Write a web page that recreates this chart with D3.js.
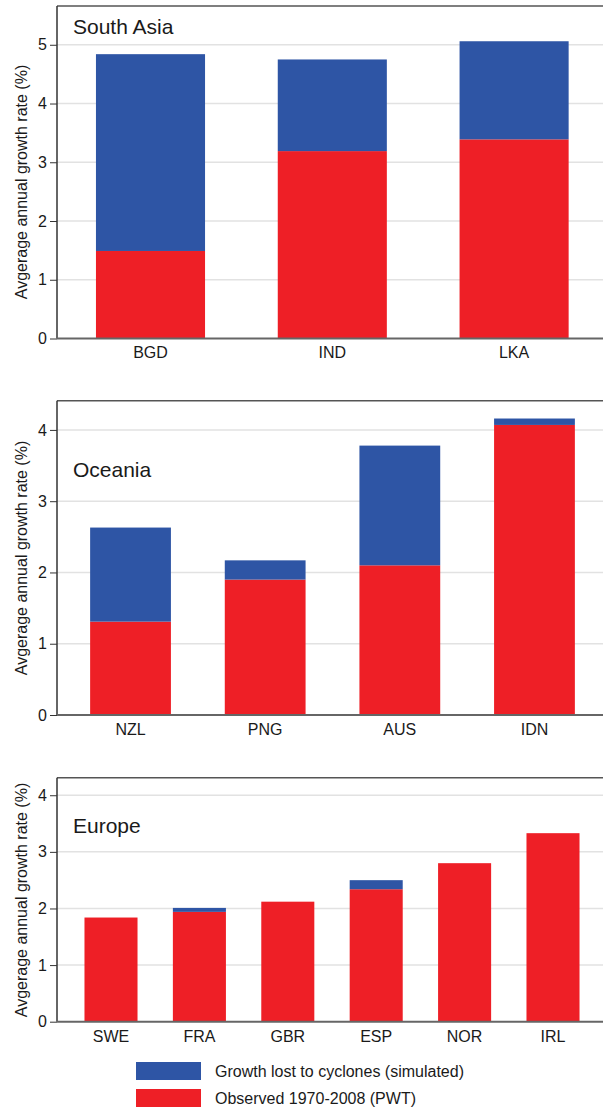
<!DOCTYPE html>
<html>
<head>
<meta charset="utf-8">
<script src="https://cdn.jsdelivr.net/npm/d3@7"></script>
<style>
  body { margin: 0; background: #fff; }
  text { font-family: "Liberation Sans", Arial, Helvetica, sans-serif; fill: #1a1a1a; }
</style>
</head>
<body>
<svg id="visualizacion"></svg>
<script>
// Datos (tasa de crecimiento anual promedio, %)
const paisesAsia = ["BGD", "IND", "LKA"];
const observadoAsia = [1.49, 3.19, 3.39];
const perdidoAsia = [3.35, 1.56, 1.67];

const paisesOceania = ["NZL", "PNG", "AUS", "IDN"];
const observadoOceania = [1.31, 1.90, 2.10, 4.07];
const perdidoOceania = [1.32, 0.27, 1.68, 0.09];

const paisesEuropa = ["SWE", "FRA", "GBR", "ESP", "NOR", "IRL"];
const observadoEuropa = [1.84, 1.94, 2.12, 2.34, 2.80, 3.33];
const perdidoEuropa = [0, 0.07, 0, 0.16, 0, 0];

const ticksAsia = [0, 1, 2, 3, 4, 5];
const ticksOceania = [0, 1, 2, 3, 4];
const ticksEuropa = [0, 1, 2, 3, 4];

const titulos = ["South Asia", "Oceania", "Europe"];
const etiquetaY = "Avgerage annual growth rate (%)";
const leyendaInfo = ["Growth lost to cyclones (simulated)", "Observed 1970-2008 (PWT)"];
const llavesLeyenda = ["perdido", "observado"];

const WIDTH = 603,
	HEIGHT = 1110;

const colores = {
	perdido: "#2e55a5",
	observado: "#ee1f26"
};

// Borde izquierdo del eje Y (común a los tres paneles)
const ejeX = 57;

// Disposición de cada panel
const paneles = [
	{ titulo: titulos[0], paises: paisesAsia, observado: observadoAsia, perdido: perdidoAsia, ticks: ticksAsia,
	  top: 6, bottom: 338.5, rangoX: [59.6, 605], yMax: 5.66, tituloY: 34, labelY: 182 },
	{ titulo: titulos[1], paises: paisesOceania, observado: observadoOceania, perdido: perdidoOceania, ticks: ticksOceania,
	  top: 400.7, bottom: 715, rangoX: [63.2, 601.8], yMax: 4.41, tituloY: 477, labelY: 558 },
	{ titulo: titulos[2], paises: paisesEuropa, observado: observadoEuropa, perdido: perdidoEuropa, ticks: ticksEuropa,
	  top: 777.7, bottom: 1021.7, rangoX: [66.8, 597.2], yMax: 4.31, tituloY: 833, labelY: 900 }
];

const svg = d3.select("#visualizacion")
	.attr("width", WIDTH)
	.attr("height", HEIGHT);

paneles.forEach(p => {
	const contenedor = svg.append("g");

	const escalaX = d3.scaleBand()
		.domain(p.paises)
		.range(p.rangoX)
		.paddingInner(0.4)
		.paddingOuter(0.2);

	const escalaY = d3.scaleLinear()
		.domain([0, p.yMax])
		.range([p.bottom, p.top]);

	// líneas de grilla
	contenedor.append("g")
		.selectAll("line")
		.data(p.ticks.filter(t => t > 0))
		.join("line")
		.attr("x1", ejeX)
		.attr("x2", WIDTH)
		.attr("y1", d => escalaY(d))
		.attr("y2", d => escalaY(d))
		.attr("stroke", "#e2e2e2")
		.attr("stroke-width", 1.5);

	// barras apiladas
	const filas = p.paises.map((pais, i) => ({
		pais: pais,
		observado: p.observado[i],
		perdido: p.perdido[i]
	}));
	const series = d3.stack().keys(["observado", "perdido"])(filas);

	contenedor.append("g")
		.selectAll("g")
		.data(series)
		.join("g")
		.attr("fill", s => colores[s.key])
		.selectAll("rect")
		.data(s => s)
		.join("rect")
		.attr("x", d => escalaX(d.data.pais))
		.attr("width", escalaX.bandwidth())
		.attr("y", d => escalaY(d[1]))
		.attr("height", d => escalaY(d[0]) - escalaY(d[1]));

	// eje Y
	const ejeY = d3.axisLeft(escalaY)
		.tickValues(p.ticks)
		.tickSize(7)
		.tickSizeOuter(0)
		.tickPadding(3)
		.tickFormat(d3.format("d"));

	contenedor.append("g")
		.attr("transform", `translate(${ejeX} 0)`)
		.call(ejeY)
		.call(g => g.select(".domain").remove())
		.call(g => g.selectAll(".tick line").attr("stroke", "#333"))
		.call(g => g.selectAll(".tick text")
			.attr("font-size", 16)
			.attr("font-family", null)
			.attr("fill", null));

	// eje X (solo etiquetas)
	const ejeCategorias = d3.axisBottom(escalaX)
		.tickSize(0)
		.tickPadding(8.6);

	contenedor.append("g")
		.attr("transform", `translate(0 ${p.bottom})`)
		.call(ejeCategorias)
		.call(g => g.select(".domain").remove())
		.call(g => g.selectAll(".tick text")
			.attr("font-size", 16)
			.attr("font-family", null)
			.attr("fill", null));

	// marco: línea superior, eje izquierdo y eje inferior
	contenedor.append("line")
		.attr("x1", ejeX).attr("x2", WIDTH)
		.attr("y1", p.top).attr("y2", p.top)
		.attr("stroke", "#555")
		.attr("stroke-width", 1.5);

	contenedor.append("line")
		.attr("x1", ejeX).attr("x2", ejeX)
		.attr("y1", p.top).attr("y2", p.bottom)
		.attr("stroke", "#333")
		.attr("stroke-width", 1.5);

	contenedor.append("line")
		.attr("x1", ejeX).attr("x2", WIDTH)
		.attr("y1", p.bottom).attr("y2", p.bottom)
		.attr("stroke", "#666")
		.attr("stroke-width", 2);

	// título del panel
	contenedor.append("text")
		.attr("x", 73)
		.attr("y", p.tituloY)
		.attr("font-size", 21)
		.text(p.titulo);

	// etiqueta del eje Y
	contenedor.append("text")
		.attr("transform", `translate(27 ${p.labelY}) rotate(-90)`)
		.attr("text-anchor", "middle")
		.attr("font-size", 16)
		.text(etiquetaY);
});

// Leyenda
const leyenda = svg.append("g");

leyenda.selectAll("rect")
	.data(llavesLeyenda)
	.join("rect")
	.attr("x", 136)
	.attr("y", (_, i) => 1062 + i * 27)
	.attr("width", 65)
	.attr("height", 18)
	.attr("fill", d => colores[d]);

leyenda.selectAll("text")
	.data(leyendaInfo)
	.join("text")
	.attr("x", 215)
	.attr("y", (_, i) => 1077 + i * 27)
	.attr("font-size", 16)
	.text(d => d);
</script>
</body>
</html>
